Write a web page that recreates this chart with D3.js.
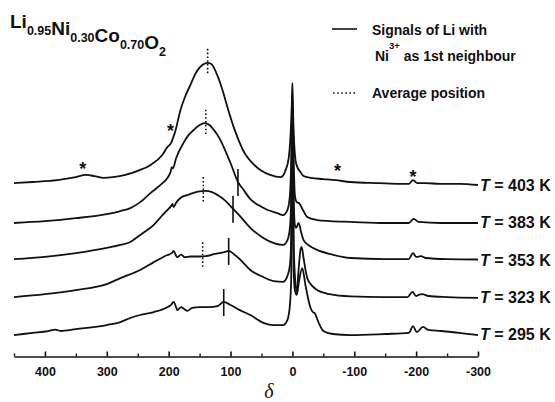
<!DOCTYPE html>
<html>
<head>
<meta charset="utf-8">
<script src="https://cdn.jsdelivr.net/npm/d3@7"></script>
<style>
  html, body { margin: 0; padding: 0; background: #fff; }
  svg { display: block; }
  text { font-family: "Liberation Sans", Arial, Helvetica, sans-serif; fill: #111; font-weight: bold; }
  text.axis-title { font-family: "Liberation Serif", "Times New Roman", serif; font-style: italic; font-weight: normal; }
</style>
</head>
<body>
<svg id="chart" width="555" height="402"></svg>
<script>
// 7Li MAS NMR spectra of Li0.95Ni0.30Co0.70O2 at several temperatures.
// Each spectrum: [shift δ (ppm), intensity (a.u., 0 = own baseline)].
const temperatures = [403, 383, 353, 323, 295];

const spec403 = [
  [450, 5], [420, 8], [380, 13], [350, 21], [334, 27], [320, 24], [305, 19], [290, 21],
  [270, 27], [250, 38], [229, 54], [210, 81], [202, 102], [196, 113], [193, 126], [190, 140],
  [181, 201], [173, 239], [165, 268], [157, 298], [149, 317], [143, 325], [137, 328], [131, 325],
  [121, 293], [113, 255], [105, 209], [95, 156], [89, 129], [80, 94], [73, 75], [63, 56],
  [50, 38], [36, 27], [19, 21], [11, 40], [6, 72], [3, 134], [1, 215], [0, 274], [-1, 201],
  [-3, 107], [-5, 67], [-8, 48], [-13, 35], [-18, 24], [-30, 19], [-50, 16], [-70, 13],
  [-94, 8], [-140, 5], [-174, 3], [-188, 3], [-195, 13], [-202, 5], [-215, 5], [-239, 3],
  [-270, 3], [-300, 0]
];

const spec383 = [
  [450, -2], [400, 3], [350, 11], [300, 22], [278, 30], [262, 38], [246, 54], [229, 79],
  [210, 105], [202, 119], [197, 135], [195, 148], [193, 145], [188, 172], [176, 213],
  [168, 234], [160, 247], [150, 261], [142, 266], [134, 261], [128, 250], [118, 226],
  [111, 202], [100, 159], [88, 108], [79, 87], [68, 62], [55, 46], [40, 33], [25, 25],
  [15, 19], [8, 33], [4, 73], [2, 154], [0, 342], [-2, 167], [-4, 73], [-7, 54], [-11, 51],
  [-17, 33], [-24, 14], [-40, 6], [-61, 3], [-94, 1], [-150, -2], [-188, -2], [-196, 9],
  [-204, 1], [-240, -2], [-300, -2]
];

const spec353 = [
  [450, 1], [400, 7], [350, 17], [300, 31], [278, 39], [262, 47], [246, 66], [224, 93],
  [210, 119], [202, 133], [196, 144], [194, 149], [192, 141], [188, 152], [181, 165],
  [170, 173], [160, 179], [150, 183], [141, 184], [130, 181], [121, 173], [110, 160],
  [97, 138], [85, 117], [68, 85], [47, 58], [30, 44], [15, 39], [8, 52], [4, 85], [2, 160],
  [0, 428], [-2, 173], [-4, 93], [-6, 85], [-10, 98], [-14, 74], [-18, 52], [-28, 36],
  [-40, 26], [-60, 15], [-94, 4], [-150, 1], [-188, 1], [-195, 17], [-200, 7], [-208, 9],
  [-215, 4], [-250, 1], [-300, 0]
];

const spec323 = [
  [450, -1], [400, 7], [350, 18], [300, 34], [278, 50], [246, 72], [224, 93], [202, 112],
  [195, 117], [192, 123], [188, 110], [186, 106], [180, 113], [174, 106], [165, 108],
  [150, 108], [140, 109], [125, 115], [110, 120], [103, 123], [95, 115], [85, 101], [68, 72],
  [47, 53], [30, 42], [15, 40], [8, 56], [4, 85], [2, 152], [0, 515], [-2, 152], [-4, 58],
  [-7, 13], [-10, 72], [-13, 126], [-15, 134], [-18, 104], [-24, 50], [-32, 29], [-40, 18],
  [-60, 7], [-94, 1], [-150, -1], [-186, -1], [-194, 13], [-200, 2], [-205, 6], [-210, 7],
  [-220, 2], [-250, -1], [-300, -3]
];

const spec295 = [
  [450, -3], [420, 3], [395, 8], [383, 12], [375, 8], [350, 13], [300, 24], [278, 32],
  [262, 43], [246, 51], [224, 59], [202, 72], [196, 78], [192, 86], [188, 72], [186, 64],
  [180, 72], [175, 67], [170, 62], [162, 70], [150, 72], [135, 72], [121, 75], [111, 86],
  [100, 78], [85, 64], [68, 51], [47, 30], [30, 24], [15, 24], [8, 38], [4, 78], [2, 145],
  [0, 601], [-2, 172], [-4, 118], [-7, 105], [-11, 145], [-16, 177], [-21, 132], [-29, 72],
  [-33, 59], [-36, 56], [-42, 32], [-50, 8], [-65, 0], [-94, -3], [-150, 0], [-188, 3],
  [-195, 21], [-201, 5], [-211, 19], [-220, 11], [-240, 8], [-270, 3], [-300, -3]
];

const spectra = [spec403, spec383, spec353, spec323, spec295];

// Average line position and the Ni3+-neighbour signal for each temperature (ppm)
const averagePositions = [137, 140, 144, 145, null];
const ni3Positions = [null, 88, 96, 103, 111];

// Spinning sidebands of the 403 K spectrum: shift and height of the asterisk
const sidebandShifts = [339, 197, -73, -195];
const sidebandLevels = [54, 156, 48, 32];

const majorTicks = [400, 300, 200, 100, 0, -100, -200, -300];
const minorTicks = [450, 350, 250, 150, 50, -50, -150, -250];

// Vertical spacing between stacked spectra, in intensity units
const stackStep = 100;

const svg = d3.select("#chart");

const x = d3.scaleLinear().domain([450, -300]).range([14, 478]);
const y = d3.scaleLinear().domain([0, stackStep]).range([334, 296.75]);
const axisY = 356.5;

// Offset of each spectrum (403 K on top)
const offsetOf = i => (temperatures.length - 1 - i) * stackStep;

const line = d3.line()
  .x(d => x(d[0]))
  .y(d => y(d[1]))
  .curve(d3.curveMonotoneX);

// Linear read-out of a spectrum at shift d
function valueAt(series, d) {
  for (let k = 0; k < series.length - 1; k++) {
    const a = series[k], b = series[k + 1];
    if (d <= a[0] && d >= b[0]) {
      const t = (a[0] - d) / (a[0] - b[0]);
      return a[1] + t * (b[1] - a[1]);
    }
  }
  return 0;
}

const plot = svg.append("g");

spectra.forEach((series, i) => {
  const off = offsetOf(i);
  const shifted = series.map(p => [p[0], p[1] + off]);
  plot.append("path")
    .datum(shifted)
    .attr("d", line)
    .attr("fill", "none")
    .attr("stroke", "#111")
    .attr("stroke-width", 1.8)
    .attr("stroke-linejoin", "round");

  // temperature label at the right end
  const label = plot.append("text")
    .attr("x", x(-300) + 2)
    .attr("y", y(off) + 6)
    .attr("font-size", 16);
  label.append("tspan").style("font-style", "italic").text("T");
  label.append("tspan").text(` = ${temperatures[i]} K`);

  // average position (dotted)
  const avg = averagePositions[i];
  if (avg !== null) {
    const cy = y(valueAt(series, avg) + off);
    plot.append("line")
      .attr("x1", x(avg)).attr("x2", x(avg))
      .attr("y1", cy - 14).attr("y2", cy + 11)
      .attr("stroke", "#111")
      .attr("stroke-width", 1.6)
      .attr("stroke-dasharray", "1.6,2.2");
  }

  // Ni3+ first-neighbour signal (solid)
  const ni = ni3Positions[i];
  if (ni !== null) {
    const cy = y(valueAt(series, ni) + off);
    plot.append("line")
      .attr("x1", x(ni)).attr("x2", x(ni))
      .attr("y1", cy - 13).attr("y2", cy + 14)
      .attr("stroke", "#111")
      .attr("stroke-width", 1.6);
  }
});

// spinning sidebands
const topOff = offsetOf(0);
sidebandShifts.forEach((d, k) => {
  plot.append("text")
    .attr("x", x(d))
    .attr("y", y(sidebandLevels[k] + topOff) + 10)
    .attr("text-anchor", "middle")
    .attr("font-size", 18)
    .text("*");
});

// x axis: major ticks labelled, minor ticks at the 50s, ticks pointing inward
const axisG = svg.append("g").attr("transform", `translate(0,${axisY})`);
axisG.call(
  d3.axisBottom(x)
    .tickValues(majorTicks)
    .tickSize(-5)
    .tickSizeOuter(0)
    .tickPadding(11)
    .tickFormat(d => String(d))
);
axisG.select(".domain").attr("stroke", "#111").attr("stroke-width", 1.6);
axisG.selectAll(".tick line").attr("stroke", "#111").attr("stroke-width", 1.6);
axisG.selectAll(".tick text")
  .attr("font-size", 12.5)
  .attr("font-family", "'Liberation Sans', Arial, sans-serif")
  .attr("fill", "#111");

const minorG = svg.append("g").attr("transform", `translate(0,${axisY})`);
minorG.call(
  d3.axisBottom(x).tickValues(minorTicks).tickSize(-3).tickSizeOuter(0).tickFormat("")
);
minorG.select(".domain").remove();
minorG.selectAll(".tick line").attr("stroke", "#111").attr("stroke-width", 1.4);

svg.append("text")
  .attr("class", "axis-title")
  .attr("x", 269).attr("y", 398)
  .attr("text-anchor", "middle")
  .attr("font-size", 20)
  .text("δ");

// compound formula
const title = svg.append("text").attr("x", 10).attr("y", 28).attr("font-size", 19);
[["Li", "0.95"], ["Ni", "0.30"], ["Co", "0.70"], ["O", "2"]].forEach(([el, sub]) => {
  title.append("tspan").attr("dy", 0).text(el);
  title.append("tspan").attr("font-size", 12.5).attr("dy", 7).text(sub);
  title.append("tspan").attr("font-size", 19).attr("dy", -7).text("");
});

// legend
const legend = svg.append("g");
legend.append("line")
  .attr("x1", 332).attr("x2", 357).attr("y1", 29).attr("y2", 29)
  .attr("stroke", "#111").attr("stroke-width", 1.6);
legend.append("text").attr("x", 372).attr("y", 35).attr("font-size", 14)
  .text("Signals of Li with");
const l2 = legend.append("text").attr("x", 375).attr("y", 61).attr("font-size", 14);
l2.append("tspan").text("Ni");
l2.append("tspan").attr("font-size", 9.5).attr("dy", -12).text("3+");
l2.append("tspan").attr("dy", 12).text(" as 1st neighbour");
legend.append("line")
  .attr("x1", 333).attr("x2", 357).attr("y1", 93).attr("y2", 93)
  .attr("stroke", "#111").attr("stroke-width", 1.6)
  .attr("stroke-dasharray", "1.6,2.5");
legend.append("text").attr("x", 372).attr("y", 98).attr("font-size", 14)
  .text("Average position");
</script>
</body>
</html>
